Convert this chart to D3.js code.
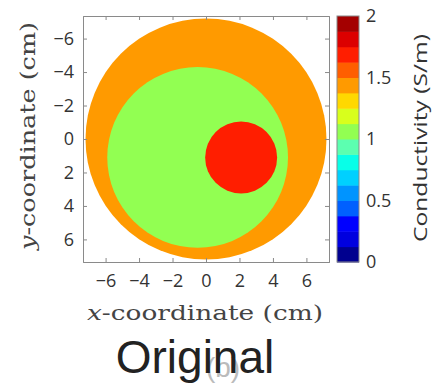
<!DOCTYPE html>
<html>
<head>
<meta charset="utf-8">
<script src="https://cdn.jsdelivr.net/npm/d3@7"></script>
<style>
  body { margin: 0; background: #fff; }
  svg { display: block; }
</style>
</head>
<body>
<div id="chart"></div>
<script>
// conductivity phantom: three regions (cm), values in S/m
const regionNames = ['background', 'inner', 'inclusion'];
const regionCx = [0, -0.5, 2.1];
const regionCy = [0, 1.1, 1.1];
const regionR = [7.2, 5.4, 2.15];
const regionValue = [1.45, 1.05, 1.7];

const xTicks = [-6, -4, -2, 0, 2, 4, 6];
const yTicks = [-6, -4, -2, 0, 2, 4, 6];
const cbTicks = [0, 0.5, 1, 1.5, 2];
// 16-step jet-like colormap, low to high
const cmap = ['#00008f', '#0000df', '#0000ff', '#0060ff', '#0094ff', '#00d0ff', '#08ffe8', '#5cffb0',
  '#92ff52', '#d8ff1c', '#ffd800', '#ff9a00', '#ff5e00', '#ff1e00', '#dc0000', '#a40000'];

const W = 438, H = 383;
const plot = {left: 83, top: 16, size: 246};
const cb = {left: 337, top: 16, width: 22, height: 246};

const svg = d3.select('#chart').append('svg')
  .attr('width', W).attr('height', H);

const x = d3.scaleLinear().domain([-7.35, 7.35]).range([plot.left, plot.left + plot.size]);
const y = d3.scaleLinear().domain([-7.35, 7.35]).range([plot.top, plot.top + plot.size]);
const color = d3.scaleQuantize().domain([0, 2]).range(cmap);
const rPx = d3.scaleLinear().domain([0, 14.7]).range([0, plot.size]);

// regions
svg.append('g').selectAll('circle')
  .data(regionNames.map((n, i) => ({n, cx: regionCx[i], cy: regionCy[i], r: regionR[i], v: regionValue[i]})))
  .join('circle')
  .attr('cx', d => x(d.cx))
  .attr('cy', d => y(d.cy))
  .attr('r', d => rPx(d.r))
  .attr('fill', d => color(d.v));

// box + ticks on all sides
const tickFont = '"Open Sans", "DejaVu Sans", sans-serif';
const fmt = d => d < 0 ? '\u2212' + Math.abs(d) : String(d);

const gx = svg.append('g').attr('transform', 'translate(0,' + (plot.top + plot.size) + ')')
  .call(d3.axisBottom(x).tickValues(xTicks).tickSize(-4).tickPadding(12).tickFormat(fmt));
const gxt = svg.append('g').attr('transform', 'translate(0,' + plot.top + ')')
  .call(d3.axisTop(x).tickValues(xTicks).tickSize(-4).tickFormat(''));
const gy = svg.append('g').attr('transform', 'translate(' + plot.left + ',0)')
  .call(d3.axisLeft(y).tickValues(yTicks).tickSize(-4).tickPadding(9).tickFormat(fmt));
const gyr = svg.append('g').attr('transform', 'translate(' + (plot.left + plot.size) + ',0)')
  .call(d3.axisRight(y).tickValues(yTicks).tickSize(-4).tickFormat(''));

[gx, gxt, gy, gyr].forEach(g => {
  g.select('.domain').attr('stroke', '#8a8a8a');
  g.selectAll('.tick line').attr('stroke', '#8a8a8a');
  g.selectAll('.tick text').attr('fill', '#333').attr('font-family', tickFont).attr('font-size', 18);
});

// colorbar
const cbY = d3.scaleLinear().domain([0, 2]).range([cb.top + cb.height, cb.top]);
svg.append('g').selectAll('rect')
  .data(cmap)
  .join('rect')
  .attr('x', cb.left)
  .attr('y', (c, i) => cbY((i + 1) * 2 / cmap.length))
  .attr('width', cb.width)
  .attr('height', (c, i) => cbY(i * 2 / cmap.length) - cbY((i + 1) * 2 / cmap.length) + 0.5)
  .attr('fill', c => c);

const gcb = svg.append('g').attr('transform', 'translate(' + (cb.left + cb.width) + ',0)')
  .call(d3.axisRight(cbY).tickValues(cbTicks).tickSize(0).tickPadding(7).tickFormat(d3.format('')));
gcb.select('.domain').remove();
gcb.selectAll('.tick text').attr('fill', '#333').attr('font-family', tickFont).attr('font-size', 18);
svg.append('rect')
  .attr('x', cb.left).attr('y', cb.top).attr('width', cb.width).attr('height', cb.height)
  .attr('fill', 'none').attr('stroke', '#8a8a8a');

svg.append('text')
  .attr('transform', 'translate(427,138) rotate(-90)')
  .attr('text-anchor', 'middle')
  .attr('font-family', tickFont).attr('font-size', 18).attr('fill', '#333')
  .attr('textLength', 208).attr('lengthAdjust', 'spacingAndGlyphs')
  .text('Conductivity (S/m)');

// axis labels (serif, latex style)
const serif = '"DejaVu Serif", "Liberation Serif", serif';
const xl = svg.append('text')
  .attr('x', 205).attr('y', 320)
  .attr('text-anchor', 'middle')
  .attr('font-family', serif).attr('font-size', 20).attr('fill', '#444')
  .attr('textLength', 236).attr('lengthAdjust', 'spacingAndGlyphs');
xl.append('tspan').attr('font-style', 'italic').text('x');
xl.append('tspan').text('-coordinate (cm)');

const yl = svg.append('text')
  .attr('transform', 'translate(35,136) rotate(-90)')
  .attr('text-anchor', 'middle')
  .attr('font-family', serif).attr('font-size', 20).attr('fill', '#444')
  .attr('textLength', 228).attr('lengthAdjust', 'spacingAndGlyphs');
yl.append('tspan').attr('font-style', 'italic').text('y');
yl.append('tspan').text('-coordinate (cm)');

// caption: "(b)" sits behind "Original" as in the source image
svg.append('text')
  .attr('x', 223).attr('y', 377)
  .attr('text-anchor', 'middle')
  .attr('font-family', '"Liberation Sans", Arial, sans-serif').attr('font-size', 28).attr('fill', '#bbb')
  .text('(b)');
svg.append('text')
  .attr('x', 195).attr('y', 373)
  .attr('text-anchor', 'middle')
  .attr('font-family', '"Liberation Sans", Arial, sans-serif').attr('font-size', 46).attr('fill', '#222')
  .text('Original');
</script>
</body>
</html>
